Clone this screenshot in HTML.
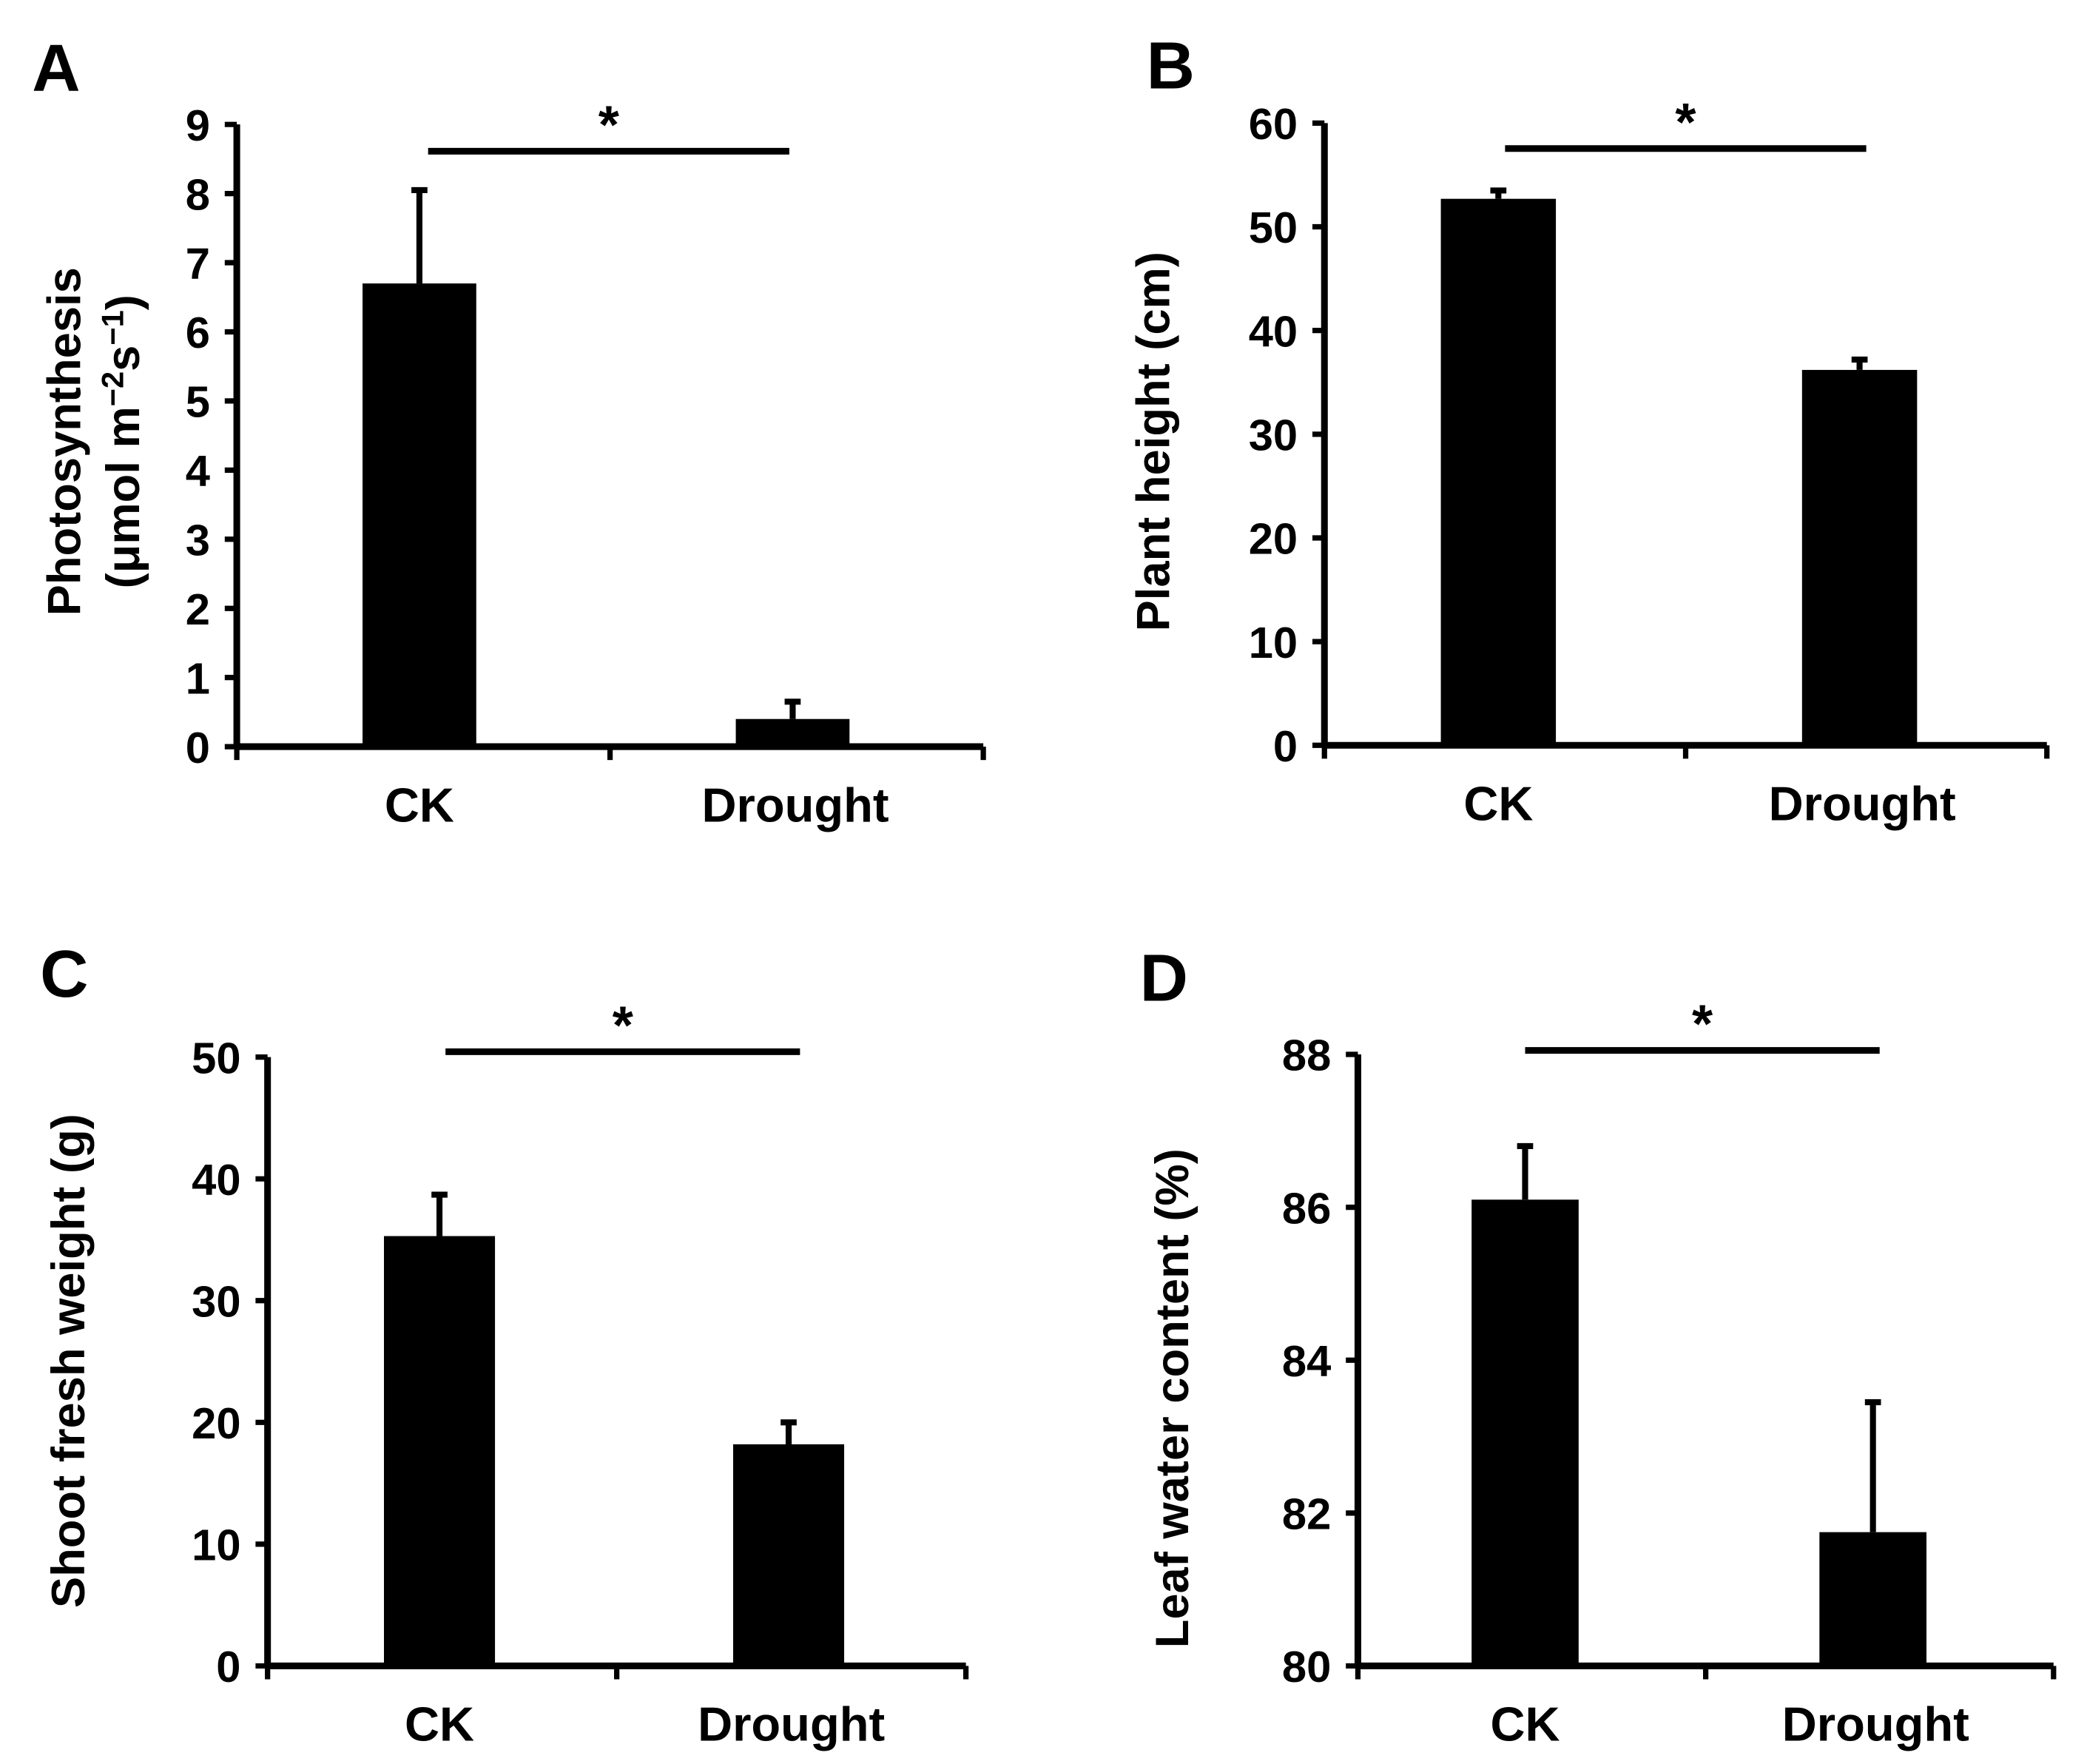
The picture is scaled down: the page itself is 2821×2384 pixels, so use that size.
<!DOCTYPE html>
<html><head><meta charset="utf-8"><style>
html,body{margin:0;padding:0;background:#fff;}
svg{display:block;}
text{font-family:"Liberation Sans",Arial,sans-serif;font-weight:bold;fill:#000;}
</style></head><body>
<svg id="fig" width="2821" height="2384" viewBox="0 0 1560 1318.3" preserveAspectRatio="none" xmlns="http://www.w3.org/2000/svg"></svg>
<script>
const categories = ["CK", "Drought"];
const valuesA = [6.7, 0.4];
const errorsA = [8.05, 0.65];
const ticksA = [0,1,2,3,4,5,6,7,8,9];
const valuesB = [52.7, 36.2];
const errorsB = [53.5, 37.2];
const ticksB = [0,10,20,30,40,50,60];
const valuesC = [35.3, 18.2];
const errorsC = [38.7, 20.0];
const ticksC = [0,10,20,30,40,50];
const valuesD = [86.1, 81.75];
const errorsD = [86.8, 83.45];
const ticksD = [80,82,84,86,88];

const NS = "http://www.w3.org/2000/svg";
const svg = document.getElementById('fig');
function mk(tag, attrs, parent){
  const e = document.createElementNS(NS, tag);
  for (const k in attrs) e.setAttribute(k, attrs[k]);
  (parent||svg).appendChild(e);
  return e;
}
function panel(cfg){
  const g = mk('g', {});
  
  
  const ticks = cfg.ticks, vmin = ticks[0], vmax = ticks[ticks.length-1];
  const y = v => cfg.y0 + (v - vmin) / (vmax - vmin) * (cfg.yTop - cfg.y0);
  const slot = (cfg.xEnd - cfg.x0) / categories.length;
  const xc = i => cfg.x0 + slot * (i + 0.5) + cfg.off;
  const L = mk('text', {x: cfg.lx, y: cfg.ly, 'font-size': 50, 'text-anchor': 'middle'}, g);
  L.textContent = cfg.letter;
  
  
  categories.forEach((c, i) => {
    const cx = xc(i);
    const b = mk('rect', {x: cx - cfg.bw/2, y: y(cfg.values[i]), width: cfg.bw, height: y(vmin) - y(cfg.values[i]), fill: '#000'}, g);
    
    
    const e = mk('path', {d: `M${cx},${y(cfg.values[i])} V${y(cfg.errors[i])} M${cx-6},${y(cfg.errors[i])} H${cx+6}`, stroke: '#000', 'stroke-width': 4.5, fill: 'none'}, g);
    
    
    const t = mk('text', {x: cx + (i===1?2:0), y: y(vmin) + 56, 'font-size': 36, 'text-anchor': 'middle'}, g);
    t.textContent = c;
    
    
  });
  const ax = mk('path', {d: `M${cfg.x0},${y(vmax)} V${y(vmin)} M${cfg.x0},${y(vmin)} H${cfg.xEnd}`, stroke: '#000', 'stroke-width': 5, fill: 'none'}, g);
  
  
  ticks.forEach(v => {
    const tk = mk('line', {x1: cfg.x0 - 9, x2: cfg.x0, y1: y(v), y2: y(v), stroke: '#000', 'stroke-width': 4}, g);
    
    
    const tl = mk('text', {x: cfg.x0 - 20, y: y(v) + 12, 'font-size': 33, 'text-anchor': 'end'}, g);
    tl.textContent = v;
    
    
  });
  for (let i = 0; i <= categories.length; i++) {
    const xx = cfg.x0 + slot * i;
    const tk = mk('line', {x1: xx, x2: xx, y1: y(vmin), y2: y(vmin) + 10, stroke: '#000', 'stroke-width': 4}, g);
    
    
  }
  const s = mk('line', {x1: cfg.sx1, x2: cfg.sx2, y1: cfg.sy, y2: cfg.sy, stroke: '#000', 'stroke-width': 5}, g);
  
  
  const st = mk('text', {x: (cfg.sx1 + cfg.sx2)/2, y: cfg.sy - 6, 'font-size': 40, 'text-anchor': 'middle'}, g);
  st.textContent = '*';
  
  
  const tg = mk('text', {transform: `translate(${cfg.tx},${cfg.ty}) rotate(-90)`, 'font-size': 35, 'text-anchor': 'middle'}, g);
  
  
  cfg.title.forEach((line, k) => {
    const ts = mk('tspan', {x: 0, dy: k === 0 ? 0 : 44}, tg);
    if (typeof line === 'string') ts.textContent = line;
    else line(ts);
  });
}
panel({letter:'A', lx:42, ly:68, x0:177, xEnd:735, yTop:93, y0:558, ticks:ticksA, values:valuesA, errors:errorsA, bw:85, off:-3,
  sx1:320, sx2:590, sy:113, tx:60, ty:330,
  title:['Photosynthesis', ts => {
    ts.appendChild(document.createTextNode('(μmol m'));
    const a = mk('tspan', {dy: -12, 'font-size': 23}, ts); a.textContent = '−2';
    const b = mk('tspan', {dy: 12}, ts); b.textContent = 's';
    const c = mk('tspan', {dy: -12, 'font-size': 23}, ts); c.textContent = '−1';
    const d = mk('tspan', {dy: 12}, ts); d.textContent = ')';
  }]});
panel({letter:'B', lx:875, ly:66, x0:990, xEnd:1530, yTop:92, y0:557, ticks:ticksB, values:valuesB, errors:errorsB, bw:86, off:-10+5,
  sx1:1125, sx2:1395, sy:111, tx:874, ty:330, title:['Plant height (cm)']});
panel({letter:'C', lx:48, ly:745, x0:200, xEnd:722, yTop:790, y0:1245, ticks:ticksC, values:valuesC, errors:errorsC, bw:83, off:-2,
  sx1:333, sx2:598, sy:786, tx:63, ty:1017, title:['Shoot fresh weight (g)']});
panel({letter:'D', lx:870, ly:748, x0:1015, xEnd:1535, yTop:788, y0:1245, ticks:ticksD, values:valuesD, errors:errorsD, bw:80, off:-5,
  sx1:1140, sx2:1405, sy:785, tx:888, ty:1045, title:['Leaf water content (%)']});
</script>
</body></html>
